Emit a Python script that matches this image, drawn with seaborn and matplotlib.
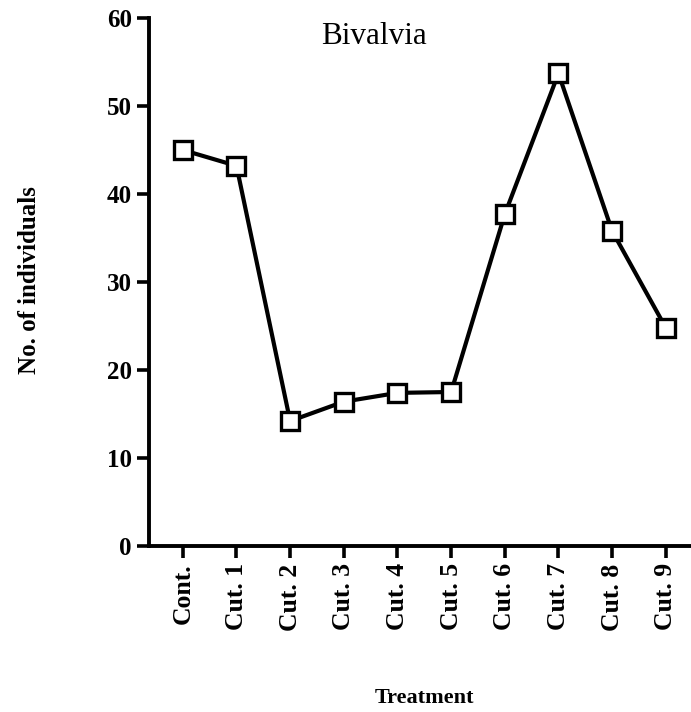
import matplotlib
matplotlib.use('Agg')
import matplotlib.pyplot as plt
import seaborn as sns
import pandas as pd

treatments = ['Cont.', 'Cut. 1', 'Cut. 2', 'Cut. 3', 'Cut. 4',
              'Cut. 5', 'Cut. 6', 'Cut. 7', 'Cut. 8', 'Cut. 9']
individuals = [45.0, 43.2, 14.2, 16.4, 17.4, 17.5, 37.7, 53.7, 35.8, 24.8]
y_ticks = [0, 10, 20, 30, 40, 50, 60]

df = pd.DataFrame({'pos': range(len(treatments)), 'n': individuals})

sns.set_style('ticks')
plt.rcParams['font.family'] = ['Liberation Serif', 'DejaVu Serif']
plt.rcParams['text.color'] = 'black'
plt.rcParams['xtick.color'] = 'black'
plt.rcParams['ytick.color'] = 'black'
plt.rcParams['axes.edgecolor'] = 'black'

fig = plt.figure(figsize=(6.91, 7.12), dpi=100)
ax = fig.add_axes([149 / 691, 1 - 546 / 712, 542 / 691, 528 / 712])

sns.lineplot(data=df, x='pos', y='n', ax=ax, color='black', linewidth=3.0,
             marker='s', markersize=13.5, markerfacecolor='white',
             markeredgecolor='black', markeredgewidth=2.4)

ax.set_xlim(-0.63, 9.47)
ax.set_ylim(0, 60)
ax.set_xticks(range(len(treatments)))
ax.set_xticklabels(treatments, rotation=90, fontsize=18.5, fontweight='bold')
ax.set_yticks(y_ticks)
ax.set_yticklabels([str(t) for t in y_ticks], fontsize=18, fontweight='bold')
ax.tick_params(direction='out', length=8.5, width=2.6, pad=4)
for s in ['top', 'right']:
    ax.spines[s].set_visible(False)
for s in ['left', 'bottom']:
    ax.spines[s].set_linewidth(2.8)
ax.set_xlabel('')
ax.set_ylabel('')

ax.text(0.415, 0.965, 'Bivalvia', transform=ax.transAxes, ha='center', va='center',
        fontsize=22.5)
fig.text(30 / 691, 1 - 280 / 712, 'No. of individuals', rotation=90, ha='center',
         va='center', fontsize=18, fontweight='bold')
fig.text(424 / 691, 1 - 698 / 712, 'Treatment', ha='center', va='center',
         fontsize=16, fontweight='bold')

fig.savefig('out.png', dpi=100)
